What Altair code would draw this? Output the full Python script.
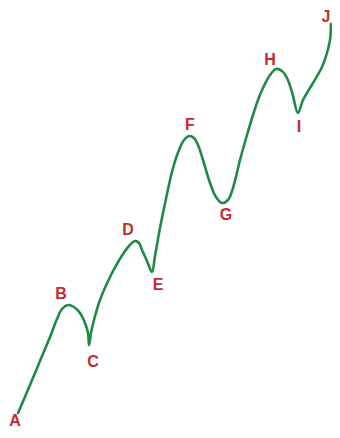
import altair as alt
import pandas as pd

curve_x = [18, 30, 40, 50, 57, 62, 68, 74, 80, 85, 88, 89, 91, 94, 100, 110, 117, 123, 129, 135,
           139, 142, 147, 152, 155, 160, 167, 173, 179, 184, 189, 194, 198, 203, 210, 216, 222,
           228, 233, 240, 247, 253, 258, 263, 270, 276, 282, 287, 292, 298, 303, 313, 322, 327, 330, 331]
curve_y = [413, 385, 361, 337, 319, 309, 305, 307, 313, 323, 333, 345, 333, 320, 300, 277, 264, 254, 246, 241,
           243, 250, 261, 272, 256, 228, 194, 168, 150, 140, 136, 138, 145, 160, 183, 197, 203,
           200, 188, 160, 135, 115, 100, 88, 75, 69, 71, 78, 92, 113, 100, 83, 67, 53, 40, 24]

labels = ["A", "B", "C", "D", "E", "F", "G", "H", "I", "J"]
label_x = [15, 61, 93, 128, 158, 190, 226, 270, 299, 326]
label_y = [421, 294, 362, 230, 285, 125, 215, 60, 127, 17]

curve = pd.DataFrame({"x": curve_x, "y": curve_y, "order": list(range(len(curve_x)))})
lab = pd.DataFrame({"label": labels, "x": label_x, "y": label_y})

xs = alt.Scale(domain=[8, 332], nice=False, zero=False)
ys = alt.Scale(domain=[8, 430], nice=False, zero=False, reverse=True)

line = alt.Chart(curve).mark_line(
    color="#1f8a46", strokeWidth=2.6, interpolate="catmull-rom", strokeCap="round"
).encode(
    x=alt.X("x:Q", scale=xs, axis=None),
    y=alt.Y("y:Q", scale=ys, axis=None),
    order="order:Q",
)

text = alt.Chart(lab).mark_text(
    color="#c62a2f", font="Liberation Sans", fontSize=16, fontWeight="bold",
    align="center", baseline="middle"
).encode(
    x=alt.X("x:Q", scale=xs, axis=None),
    y=alt.Y("y:Q", scale=ys, axis=None),
    text="label:N",
)

chart = (line + text).properties(
    width=324, height=422, padding=0, autosize=alt.AutoSizeParams(type="none"),
    background="white"
).configure_view(stroke=None)

chart.save("out.html", embed_options={"renderer": "svg", "actions": False})
